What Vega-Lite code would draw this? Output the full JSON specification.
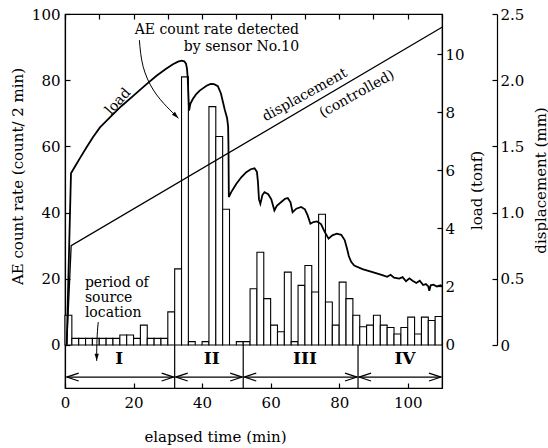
{
  "$schema": "https://vega.github.io/schema/vega-lite/v6.json",
  "width": 377,
  "height": 374,
  "autosize": {"type": "none"},
  "padding": {"left": 65, "top": 14, "right": 106, "bottom": 60},
  "background": "white",
  "config": {
    "view": {"stroke": "black", "strokeWidth": 1.2},
    "axis": {
      "labelFont": "DejaVu Serif", "labelFontSize": 15, "labelColor": "black",
      "titleFont": "DejaVu Serif", "titleFontSize": 15, "titleFontWeight": "normal", "titleColor": "black",
      "domainColor": "black", "tickColor": "black", "domainWidth": 1.2, "tickWidth": 1.2,
      "grid": false, "labelFlush": false
    },
    "text": {"font": "DejaVu Serif", "fontSize": 14, "color": "black"}
  },
  "layer": [
    {
      "layer": [
        {
          "data": {"values": [
            {"t0": 0, "t1": 2, "n": 9}, {"t0": 2, "t1": 4, "n": 2}, {"t0": 4, "t1": 6, "n": 2}, {"t0": 6, "t1": 8, "n": 2},
            {"t0": 8, "t1": 10, "n": 2}, {"t0": 10, "t1": 12, "n": 2}, {"t0": 12, "t1": 14, "n": 2}, {"t0": 14, "t1": 16, "n": 2},
            {"t0": 16, "t1": 18, "n": 3}, {"t0": 18, "t1": 20, "n": 3}, {"t0": 20, "t1": 22, "n": 2}, {"t0": 22, "t1": 24, "n": 6},
            {"t0": 24, "t1": 26, "n": 2}, {"t0": 26, "t1": 28, "n": 2}, {"t0": 28, "t1": 30, "n": 2}, {"t0": 30, "t1": 32, "n": 10},
            {"t0": 32, "t1": 34, "n": 23}, {"t0": 34, "t1": 36, "n": 81}, {"t0": 36, "t1": 38, "n": 1}, {"t0": 38, "t1": 40, "n": 0},
            {"t0": 40, "t1": 42, "n": 1}, {"t0": 42, "t1": 44, "n": 72}, {"t0": 44, "t1": 46, "n": 63}, {"t0": 46, "t1": 48, "n": 41},
            {"t0": 48, "t1": 50, "n": 0}, {"t0": 50, "t1": 52, "n": 1}, {"t0": 52, "t1": 54, "n": 1}, {"t0": 54, "t1": 56, "n": 17},
            {"t0": 56, "t1": 58, "n": 28}, {"t0": 58, "t1": 60, "n": 14}, {"t0": 60, "t1": 62, "n": 6}, {"t0": 62, "t1": 64, "n": 4},
            {"t0": 64, "t1": 66, "n": 22}, {"t0": 66, "t1": 68, "n": 1}, {"t0": 68, "t1": 70, "n": 18}, {"t0": 70, "t1": 72, "n": 24},
            {"t0": 72, "t1": 74, "n": 16}, {"t0": 74, "t1": 76, "n": 39.5}, {"t0": 76, "t1": 78, "n": 13}, {"t0": 78, "t1": 80, "n": 6},
            {"t0": 80, "t1": 82, "n": 19}, {"t0": 82, "t1": 84, "n": 14}, {"t0": 84, "t1": 86, "n": 9}, {"t0": 86, "t1": 88, "n": 5.5},
            {"t0": 88, "t1": 90, "n": 6}, {"t0": 90, "t1": 92, "n": 9}, {"t0": 92, "t1": 94, "n": 6}, {"t0": 94, "t1": 96, "n": 5.3},
            {"t0": 96, "t1": 98, "n": 3.3}, {"t0": 98, "t1": 100, "n": 5.3}, {"t0": 100, "t1": 102, "n": 8.4}, {"t0": 102, "t1": 104, "n": 3.3},
            {"t0": 104, "t1": 106, "n": 8.4}, {"t0": 106, "t1": 108, "n": 7.4}, {"t0": 108, "t1": 110, "n": 8.6}
          ]},
          "mark": {"type": "rect", "fill": "white", "stroke": "black", "strokeWidth": 1.1},
          "encoding": {
            "x": {"field": "t0", "type": "quantitative", "scale": {"domain": [0, 110], "nice": false, "zero": false},
              "axis": {"orient": "bottom", "values": [0,10,20,30,40,50,60,70,80,90,100,110],
                "labelExpr": "(datum.value % 20 == 0 || datum.value == 110) ? datum.label : ''",
                "tickSize": -5, "labelPadding": 12, "title": "elapsed time (min)", "titleX": 150, "titleY": 48, "titleBaseline": "middle"}},
            "x2": {"field": "t1"},
            "y": {"field": "n", "type": "quantitative", "scale": {"domain": [-13, 100], "nice": false, "zero": false},
              "axis": {"orient": "left", "values": [0, 20, 40, 60, 80, 100], "tickSize": -5, "labelPadding": 10,
                "title": "AE count rate (count/ 2 min)", "titleAngle": 270, "titleX": -48, "titleY": 162,
                "titleAlign": "center", "titleBaseline": "middle"}},
            "y2": {"datum": 0}
          }
        },
        {
          "mark": {"type": "rule", "stroke": "black", "strokeWidth": 1.2},
          "encoding": {"y": {"datum": 0}}
        },
        {
          "data": {"values": [{"t": 32}, {"t": 52}, {"t": 85.5}]},
          "mark": {"type": "rule", "stroke": "black", "strokeWidth": 1.2},
          "encoding": {"x": {"field": "t", "type": "quantitative"}, "y": {"datum": 0}, "y2": {"datum": -13}}
        },
        {
          "data": {"values": [{"a": 0.5, "b": 31.7}, {"a": 32.3, "b": 51.7}, {"a": 52.3, "b": 85.2}, {"a": 85.8, "b": 109.7}]},
          "mark": {"type": "rule", "stroke": "black", "strokeWidth": 1.3},
          "encoding": {"x": {"field": "a", "type": "quantitative"}, "x2": {"field": "b"}, "y": {"datum": -9.7}}
        },
        {
          "data": {"values": [{"t": 0.5}, {"t": 32.3}, {"t": 52.3}, {"t": 85.8}]},
          "mark": {"type": "point", "shape": "M 1 -0.33 L 0 0 L 1 0.33", "size": 576, "filled": false, "stroke": "black", "strokeWidth": 1.2, "opacity": 1},
          "encoding": {"x": {"field": "t", "type": "quantitative"}, "y": {"datum": -9.7}}
        },
        {
          "data": {"values": [{"t": 31.7}, {"t": 51.7}, {"t": 85.2}, {"t": 109.7}]},
          "mark": {"type": "point", "shape": "M -1 -0.33 L 0 0 L -1 0.33", "size": 576, "filled": false, "stroke": "black", "strokeWidth": 1.2, "opacity": 1},
          "encoding": {"x": {"field": "t", "type": "quantitative"}, "y": {"datum": -9.7}}
        },
        {
          "data": {"values": [{"t": 15.8, "label": "I"}, {"t": 42.8, "label": "II"}, {"t": 70.0, "label": "III"}, {"t": 99.2, "label": "IV"}]},
          "mark": {"type": "text", "fontSize": 17, "fontWeight": "bold", "align": "center", "baseline": "middle"},
          "encoding": {"x": {"field": "t", "type": "quantitative"}, "y": {"datum": -4.2}, "text": {"field": "label"}}
        },
        {
          "data": {"values": [{"t": 68.3, "n": 95.2, "label": "AE count rate detected"}, {"t": 68.3, "n": 90.0, "label": "by sensor No.10"}]},
          "mark": {"type": "text", "align": "right", "baseline": "middle"},
          "encoding": {"x": {"field": "t", "type": "quantitative"}, "y": {"field": "n", "type": "quantitative"}, "text": {"field": "label"}}
        },
        {
          "data": {"values": [{"t": 5.8, "n": 18.7, "label": "period of"}, {"t": 5.8, "n": 14.2, "label": "source"}, {"t": 5.8, "n": 9.7, "label": "location"}]},
          "mark": {"type": "text", "align": "left", "baseline": "middle"},
          "encoding": {"x": {"field": "t", "type": "quantitative"}, "y": {"field": "n", "type": "quantitative"}, "text": {"field": "label"}}
        },
        {
          "data": {"values": [{"t": 15.5, "n": 73.5, "label": "load"}]},
          "mark": {"type": "text", "align": "center", "baseline": "middle", "angle": -48},
          "encoding": {"x": {"field": "t", "type": "quantitative"}, "y": {"field": "n", "type": "quantitative"}, "text": {"field": "label"}}
        },
        {
          "data": {"values": [{"t": 70.0, "n": 75.5, "label": "displacement"}, {"t": 85.2, "n": 75.8, "label": "(controlled)"}]},
          "mark": {"type": "text", "align": "center", "baseline": "middle", "angle": -29},
          "encoding": {"x": {"field": "t", "type": "quantitative"}, "y": {"field": "n", "type": "quantitative"}, "text": {"field": "label"}}
        },
        {
          "data": {"values": [{"i": 1, "t": 21.7, "n": 92.1}, {"i": 2, "t": 22.8, "n": 84.1}, {"i": 3, "t": 25.8, "n": 77.0}, {"i": 4, "t": 29.7, "n": 72.0}, {"i": 5, "t": 33.1, "n": 68.5}]},
          "mark": {"type": "line", "interpolate": "natural", "stroke": "black", "strokeWidth": 1},
          "encoding": {"x": {"field": "t", "type": "quantitative"}, "y": {"field": "n", "type": "quantitative"}, "order": {"field": "i"}}
        },
        {
          "data": {"values": [{"i": 1, "t": 9.7, "n": 6.9}, {"i": 2, "t": 9.4, "n": 3.0}, {"i": 3, "t": 9.25, "n": -2.1}, {"i": 4, "t": 9.25, "n": -4.8}]},
          "mark": {"type": "line", "interpolate": "natural", "stroke": "black", "strokeWidth": 1},
          "encoding": {"x": {"field": "t", "type": "quantitative"}, "y": {"field": "n", "type": "quantitative"}, "order": {"field": "i"}}
        },
        {
          "data": {"values": [{"t": 33.1, "n": 68.5, "ang": 45}, {"t": 9.25, "n": -4.8, "ang": 90}]},
          "mark": {"type": "point", "shape": "M 0 0 L -1 -0.3 L -1 0.3 Z", "size": 200, "filled": true, "fill": "black", "opacity": 1},
          "encoding": {"x": {"field": "t", "type": "quantitative"}, "y": {"field": "n", "type": "quantitative"}, "angle": {"field": "ang", "type": "quantitative", "scale": null}}
        }
      ]
    },
    {
      "data": {"values": [
        {"t": 0.5, "load": 0}, {"t": 1.75, "load": 5.9}, {"t": 3, "load": 6.15}, {"t": 4.5, "load": 6.45}, {"t": 6.3, "load": 6.8}, {"t": 8.2, "load": 7.15}, {"t": 10.2, "load": 7.48},
        {"t": 13.1, "load": 7.83}, {"t": 16.5, "load": 8.22}, {"t": 19.9, "load": 8.57}, {"t": 23.3, "load": 8.92}, {"t": 26.7, "load": 9.26},
        {"t": 29.5, "load": 9.5}, {"t": 31.5, "load": 9.66}, {"t": 33, "load": 9.75}, {"t": 34, "load": 9.78}, {"t": 34.8, "load": 9.76}, {"t": 35.3, "load": 9.68},
        {"t": 35.6, "load": 9.5}, {"t": 35.8, "load": 9.2}, {"t": 36.0, "load": 8.6}, {"t": 36.2, "load": 8.06}, {"t": 36.6, "load": 8.3},
        {"t": 37.3, "load": 8.46}, {"t": 38.3, "load": 8.63}, {"t": 39.3, "load": 8.75}, {"t": 41.3, "load": 8.92}, {"t": 42.5, "load": 8.98}, {"t": 43.5, "load": 8.97}, {"t": 44.6, "load": 8.9},
        {"t": 45.5, "load": 8.65}, {"t": 46.6, "load": 8.1}, {"t": 47.3, "load": 7.8}, {"t": 47.6, "load": 7.5}, {"t": 47.7, "load": 6.8},
        {"t": 47.8, "load": 5.08}, {"t": 48.5, "load": 5.25}, {"t": 50, "load": 5.54}, {"t": 51.5, "load": 5.77}, {"t": 52.9, "load": 5.94}, {"t": 54.2, "load": 6.04}, {"t": 55.3, "load": 6.07},
        {"t": 56.0, "load": 5.95}, {"t": 56.3, "load": 5.6}, {"t": 56.6, "load": 5.0}, {"t": 57, "load": 4.85}, {"t": 57.6, "load": 5.15},
        {"t": 58.2, "load": 5.25}, {"t": 59.3, "load": 5.18}, {"t": 60.2, "load": 5.0}, {"t": 60.8, "load": 4.75}, {"t": 61.1, "load": 4.62},
        {"t": 61.8, "load": 4.78}, {"t": 63.1, "load": 4.91}, {"t": 64.2, "load": 5.02}, {"t": 65, "load": 5.05}, {"t": 65.8, "load": 4.9}, {"t": 66.4, "load": 4.56},
        {"t": 67.5, "load": 4.68}, {"t": 68.9, "load": 4.74}, {"t": 70.0, "load": 4.66}, {"t": 70.8, "load": 4.45}, {"t": 71.6, "load": 4.16},
        {"t": 72.5, "load": 4.22}, {"t": 73.5, "load": 4.24}, {"t": 74.7, "load": 4.15}, {"t": 75.7, "load": 3.9}, {"t": 76.9, "load": 3.65},
        {"t": 78, "load": 3.76}, {"t": 79.3, "load": 3.82}, {"t": 80.6, "load": 3.78}, {"t": 81.6, "load": 3.6}, {"t": 82.3, "load": 3.3}, {"t": 82.8, "load": 3.05},
        {"t": 83.5, "load": 2.85}, {"t": 84.4, "load": 2.72}, {"t": 86.8, "load": 2.6}, {"t": 89.5, "load": 2.5}, {"t": 92.6, "load": 2.39},
        {"t": 94, "load": 2.33}, {"t": 95, "load": 2.4}, {"t": 96, "load": 2.3}, {"t": 97.5, "load": 2.27}, {"t": 98.5, "load": 2.32},
        {"t": 99.5, "load": 2.18}, {"t": 100.5, "load": 2.28}, {"t": 101.4, "load": 2.2}, {"t": 102.5, "load": 2.12}, {"t": 103.5, "load": 2.2},
        {"t": 104.5, "load": 2.05}, {"t": 105.3, "load": 2.08}, {"t": 106, "load": 2.0}, {"t": 106.3, "load": 1.85}, {"t": 106.7, "load": 2.04},
        {"t": 107.5, "load": 2.06}, {"t": 108.5, "load": 2.0}, {"t": 109.6, "load": 2.04}, {"t": 110, "load": 2.0}
      ]},
      "mark": {"type": "line", "stroke": "black", "strokeWidth": 1.8, "interpolate": "linear"},
      "encoding": {
        "x": {"field": "t", "type": "quantitative",
          "axis": {"orient": "top", "values": [0,10,20,30,40,50,60,70,80,90,100,110], "labels": false, "tickSize": -5, "domain": false, "title": null}},
        "y": {"field": "load", "type": "quantitative", "scale": {"domain": [-1.5, 11.39], "nice": false, "zero": false},
          "axis": {"orient": "right", "values": [0, 2, 4, 6, 8, 10], "tickSize": -5, "labelPadding": 8,
            "title": "load (tonf)", "titleAngle": 270, "titleX": 34, "titleY": 176, "titleAlign": "center", "titleBaseline": "middle"}}
      }
    },
    {
      "data": {"values": [{"t": 0.5, "d": 0}, {"t": 1.8, "d": 0.75}, {"t": 110, "d": 2.4}]},
      "mark": {"type": "line", "stroke": "black", "strokeWidth": 1.3},
      "encoding": {
        "x": {"field": "t", "type": "quantitative", "axis": null},
        "y": {"field": "d", "type": "quantitative", "scale": {"domain": [0, 2.5], "range": [331, 0], "nice": false, "zero": false},
          "axis": {"orient": "right", "offset": 55, "values": [0, 0.5, 1.0, 1.5, 2.0, 2.5], "format": ".1f",
            "labelExpr": "datum.value == 0 ? '0' : datum.label",
            "tickSize": -5, "labelPadding": 8,
            "title": "displacement (mm)", "titleAngle": 270, "titleX": 43, "titleY": 166, "titleAlign": "center", "titleBaseline": "middle"}}
      }
    }
  ],
  "resolve": {"scale": {"y": "independent"}, "axis": {"x": "independent"}}
}
